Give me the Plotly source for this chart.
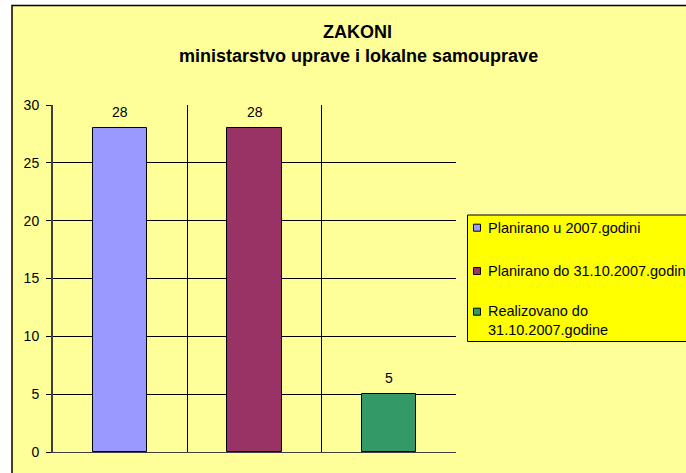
import plotly.graph_objects as go

# ---- data ----
categories = ["Planirano u 2007.godini",
              "Planirano do 31.10.2007.godine",
              "Realizovano do 31.10.2007.godine"]
legend_labels = ["Planirano u 2007.godini",
                 "Planirano do 31.10.2007.godine",
                 "Realizovano do<br>31.10.2007.godine"]
values = [28, 28, 5]
colors = ["#9999FF", "#993366", "#339966"]
y_ticks = [0, 5, 10, 15, 20, 25, 30]
title_main = "ZAKONI"
title_sub = "ministarstvo uprave i lokalne samouprave"

# ---- geometry (pixels) ----
W, H = 686, 473
PL, PR, PT, PB = 53, 456, 105, 452
FONT = "Liberation Sans, Arial, sans-serif"


def px(x):
    return (x - PL) / (PR - PL)


def py(y):
    return (PB - y) / (PB - PT)


fig = go.Figure()
xpos = list(range(len(categories)))
for i, (name, v, c) in enumerate(zip(categories, values, colors)):
    fig.add_trace(go.Bar(
        x=[xpos[i]], y=[v], name=name, width=0.406,
        marker=dict(color=c, line=dict(color="black", width=1)),
        showlegend=False, hovertemplate="%{y}<extra>" + name + "</extra>"))

annotations = []
# data labels
for i, v in enumerate(values):
    annotations.append(dict(x=xpos[i], y=v, xref="x", yref="y", text=str(v),
                            showarrow=False, yanchor="middle", yshift=16,
                            font=dict(family=FONT, size=14, color="black")))
# title
annotations.append(dict(x=px(357), y=py(32), xref="paper", yref="paper",
                        text="<b>" + title_main + "</b>", showarrow=False,
                        xanchor="center", yanchor="middle",
                        font=dict(family=FONT, size=18, color="black")))
annotations.append(dict(x=px(358), y=py(56), xref="paper", yref="paper",
                        text="<b>" + title_sub + "</b>", showarrow=False,
                        xanchor="center", yanchor="middle",
                        font=dict(family=FONT, size=18, color="black")))

shapes = []
# chart area background + border
shapes.append(dict(type="rect", xref="paper", yref="paper", layer="below",
                   x0=px(12), x1=px(705), y0=py(490), y1=py(5.5),
                   fillcolor="#FFFF99", line=dict(color="black", width=1.5)))
# legend box
shapes.append(dict(type="rect", xref="paper", yref="paper", layer="above",
                   x0=px(467.5), x1=px(720), y0=py(341.5), y1=py(215),
                   fillcolor="#FFFF00", line=dict(color="black", width=1)))
row_centers = [227.7, 271, 311.7]
text_centers = [228, 271, 320.8]
for lab, c, rc, tc in zip(legend_labels, colors, row_centers, text_centers):
    shapes.append(dict(type="rect", xref="paper", yref="paper", layer="above",
                       x0=px(473.5), x1=px(480.5), y0=py(rc + 3.5), y1=py(rc - 3.5),
                       fillcolor=c, line=dict(color="black", width=1)))
    annotations.append(dict(x=px(485.5), y=py(tc), xref="paper", yref="paper",
                            text=lab, showarrow=False, align="left",
                            xanchor="left", yanchor="middle",
                            font=dict(family=FONT, size=14.5, color="black")))

fig.update_layout(
    width=W, height=H,
    margin=dict(l=PL, r=W - PR, t=PT, b=H - PB, autoexpand=False),
    paper_bgcolor="white", plot_bgcolor="#C0C0C0",
    barmode="overlay", bargap=0,
    showlegend=False,
    font=dict(family=FONT, size=14, color="black"),
    annotations=annotations, shapes=shapes,
    xaxis=dict(range=[-0.5, 2.5], tickvals=[0.5, 1.5], showticklabels=False,
               ticks="", showgrid=True, gridcolor="black", gridwidth=1,
               zeroline=False, showline=True, linecolor="#404040", linewidth=1),
    yaxis=dict(range=[0, 30], tickvals=y_ticks, ticks="outside", ticklen=5,
               tickcolor="black", showgrid=True, gridcolor="black", gridwidth=1,
               zeroline=False, showline=True, linecolor="#404040", linewidth=2,
               ticklabelstandoff=4,
               tickfont=dict(family=FONT, size=14, color="black")),
)

fig.write_html("out.html",
               config={"displayModeBar": False},
               post_script="document.body.style.margin='0';"
                           "document.body.style.overflow='hidden';")
